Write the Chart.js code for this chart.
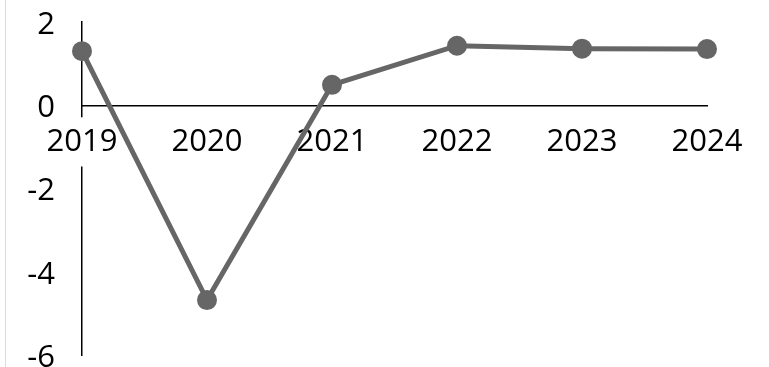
<!DOCTYPE html>
<html>
<head>
<meta charset="utf-8">
<script src="https://cdn.jsdelivr.net/npm/chart.js@4/dist/chart.umd.min.js"></script>
<style>
  html, body { margin: 0; padding: 0; background: #fff; }
  #wrap { position: relative; width: 769px; height: 367px; }
  #edge { position: absolute; left: 5px; top: 0; width: 1px; height: 367px; background: #dcdcdc; }
  canvas { position: absolute; left: 0; top: 0; }
</style>
</head>
<body>
<div id="wrap">
  <div id="edge"></div>
  <canvas id="c" width="769" height="367"></canvas>
</div>
<script>
const categories = ["2019", "2020", "2021", "2022", "2023", "2024"];
const seriesValues = [1.30, -4.68, 0.49, 1.43, 1.36, 1.35];
const yTickValues = [2, 0, -2, -4, -6];

const FONT = { family: "'Open Sans', sans-serif", size: 31, lineHeight: 1.2 };

new Chart(document.getElementById('c'), {
  type: 'line',
  data: {
    labels: categories,
    datasets: [{
      data: seriesValues,
      borderColor: '#666666',
      backgroundColor: '#666666',
      pointBackgroundColor: '#666666',
      pointBorderColor: '#666666',
      borderWidth: 5,
      pointRadius: 9,
      pointBorderWidth: 2,
      tension: 0,
      fill: false
    }]
  },
  options: {
    responsive: false,
    animation: false,
    events: [],
    layout: { padding: { left: 0, right: 62, top: 22, bottom: 12 } },
    plugins: { legend: { display: false }, tooltip: { enabled: false } },
    scales: {
      x: {
        type: 'category',
        position: { y: 0 },
        offset: false,
        grid: { display: false, drawTicks: false },
        border: { display: true, color: '#000', width: 1.5, z: 0 },
        ticks: {
          color: '#000',
          font: FONT,
          padding: 18,
          maxRotation: 0,
          autoSkip: false,
          showLabelBackdrop: true,
          backdropColor: '#ffffff',
          backdropPadding: 6,
          z: 0
        }
      },
      y: {
        min: Math.min(...yTickValues),
        max: Math.max(...yTickValues),
        afterBuildTicks: (scale) => { scale.ticks = yTickValues.map(v => ({ value: v })); },
        afterFit: (scale) => { scale.width = 82; scale.paddingTop = 0; scale.paddingBottom = 0; },
        grid: { display: false, drawTicks: false },
        border: { display: true, color: '#000', width: 1.5, z: -1 },
        ticks: {
          color: '#000',
          font: FONT,
          padding: 27,
          labelOffset: 3
        }
      }
    }
  }
});
</script>
</body>
</html>
